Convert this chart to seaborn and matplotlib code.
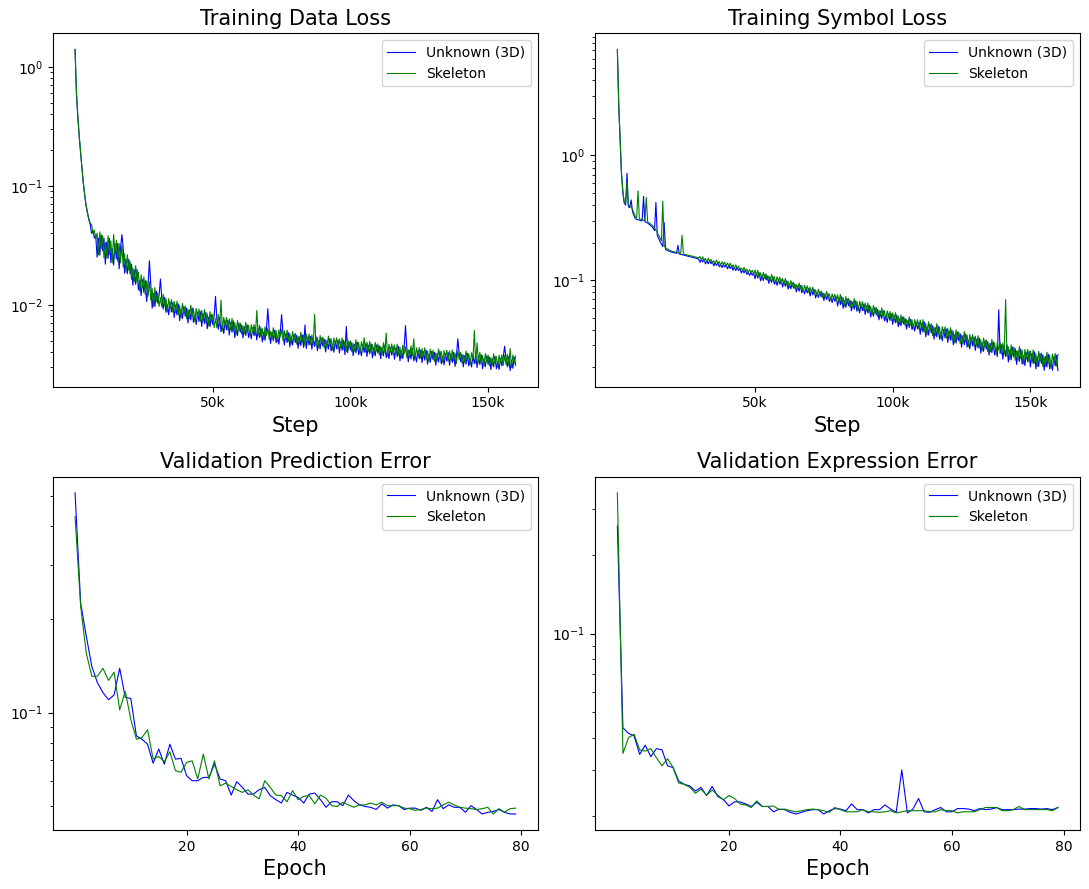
import numpy as np
import pandas as pd
import matplotlib
matplotlib.use('Agg')
import matplotlib.pyplot as plt
import seaborn as sns

#steps are logged every 500, epochs 0..79
steps = np.arange(0, 160500, 500)
epochs = np.arange(80)

#training data loss, units of 1e-5
data_loss_unknown = [
    140000, 60000, 38000, 26000, 19000, 14000, 10500, 8300, 6800, 5900,
    5200, 4750, 3990, 4180, 3650, 3850, 2520, 3640, 2620, 3880,
    2860, 3650, 2200, 3380, 2460, 3620, 2270, 2980, 2160, 3260,
    2440, 3290, 2010, 2980, 3900, 2990, 1850, 2420, 1830, 2420,
    1820, 2200, 1460, 1980, 1490, 1990, 1340, 1600, 1200, 1630,
    1270, 1600, 1070, 1450, 2350, 1460, 940, 1250, 970, 1310,
    1036, 1199, 1650, 1129, 924, 1159, 867, 1005, 827, 1048,
    874, 1050, 785, 1000, 823, 1019, 738, 922, 770, 972,
    805, 943, 705, 906, 748, 946, 714, 830, 685, 871,
    728, 878, 660, 844, 698, 868, 631, 788, 657, 829,
    685, 796, 1180, 758, 625, 790, 595, 695, 576, 736,
    619, 746, 559, 715, 591, 734, 533, 664, 554, 704,
    591, 679, 528, 655, 555, 680, 533, 610, 519, 642,
    553, 650, 508, 628, 532, 644, 489, 591, 505, 622,
    930, 610, 475, 589, 500, 614, 481, 550, 469, 581,
    830, 589, 461, 571, 484, 585, 445, 540, 461, 567,
    484, 556, 433, 538, 457, 561, 440, 680, 431, 534,
    461, 544, 425, 527, 448, 542, 412, 500, 428, 527,
    450, 517, 403, 501, 425, 523, 410, 469, 401, 497,
    428, 505, 395, 489, 416, 504, 383, 660, 398, 491,
    419, 482, 375, 467, 396, 487, 382, 438, 374, 464,
    399, 472, 369, 458, 389, 472, 360, 436, 374, 461,
    394, 453, 354, 440, 374, 460, 361, 414, 354, 439,
    379, 448, 350, 434, 369, 448, 340, 413, 354, 436,
    670, 429, 333, 415, 352, 432, 339, 388, 332, 411,
    354, 417, 327, 405, 344, 417, 318, 384, 330, 407,
    348, 401, 312, 390, 331, 407, 320, 368, 314, 390,
    337, 398, 312, 387, 329, 400, 305, 370, 520, 392,
    335, 386, 302, 375, 318, 392, 307, 353, 301, 373,
    322, 380, 298, 370, 315, 382, 291, 353, 302, 373,
    318, 366, 286, 355, 302, 371, 291, 335, 287, 356,
    308, 364, 450, 355, 303, 369, 281, 342, 294, 364,
    312]
data_loss_skeleton = [
    140000, 61000, 38500, 26500, 19300, 14200, 10700, 8400, 6900, 6000,
    5300, 4850, 4730, 4010, 4250, 3590, 4010, 2620, 4110, 2990,
    3820, 2480, 3340, 2480, 3810, 2660, 3450, 2250, 3900, 2690,
    3490, 2320, 3290, 2260, 3180, 2070, 2690, 1890, 2640, 1970,
    2320, 1640, 2050, 1570, 2140, 1560, 1880, 1300, 1790, 1410,
    1720, 1220, 1590, 1180, 1560, 1100, 1370, 976, 1400, 1070,
    1260, 974, 1150, 959, 1229, 978, 1132, 874, 1129, 951,
    1109, 869, 1072, 865, 1076, 833, 986, 779, 1028, 845,
    979, 766, 916, 770, 995, 799, 932, 722, 935, 790,
    924, 727, 901, 730, 913, 709, 843, 666, 878, 720,
    833, 646, 767, 644, 831, 666, 1100, 605, 787, 668,
    785, 618, 764, 618, 772, 599, 712, 561, 739, 612,
    705, 571, 665, 573, 715, 590, 675, 545, 683, 594,
    684, 556, 900, 558, 676, 543, 631, 514, 654, 554,
    633, 513, 598, 515, 644, 533, 609, 491, 618, 538,
    620, 504, 607, 507, 615, 494, 575, 470, 597, 505,
    578, 468, 545, 470, 589, 487, 558, 451, 568, 493,
    571, 465, 560, 468, 830, 458, 533, 435, 554, 469,
    537, 434, 508, 438, 547, 454, 519, 419, 528, 459,
    530, 432, 520, 434, 529, 425, 495, 405, 515, 438,
    500, 405, 473, 409, 511, 423, 484, 392, 492, 429,
    530, 403, 487, 407, 495, 399, 464, 380, 484, 410,
    470, 381, 446, 385, 482, 399, 580, 370, 466, 406,
    470, 383, 461, 385, 469, 378, 439, 360, 458, 388,
    444, 360, 420, 363, 454, 375, 520, 347, 437, 380,
    439, 357, 430, 360, 437, 352, 410, 335, 426, 362,
    416, 337, 394, 341, 427, 353, 406, 328, 414, 361,
    417, 340, 411, 344, 419, 338, 394, 322, 410, 349,
    400, 324, 380, 328, 411, 340, 390, 315, 397, 345,
    610, 325, 480, 329, 400, 322, 375, 307, 391, 332,
    380, 308, 360, 311, 389, 322, 369, 299, 378, 330,
    381, 311, 377, 316, 385, 311, 430, 298, 381, 324,
    372]

#training symbol loss, units of 1e-4
symbol_loss_unknown = [
    70000, 25000, 13000, 7000, 5000, 4150, 4000, 7200, 3880, 3820,
    4400, 3550, 3300, 3120, 3080, 3060, 3030, 3010, 2990, 4700,
    2940, 2910, 2870, 2810, 2750, 2690, 2610, 2500, 4200, 2280,
    2160, 2040, 1950, 1860, 2900, 1760, 1740, 1720, 1700, 1685,
    1670, 1660, 1650, 1640, 1900, 1620, 1610, 1600, 1590, 1580,
    1570, 1560, 1550, 1540, 1530, 1520, 1510, 1500, 1490, 1475,
    1388, 1474, 1397, 1474, 1349, 1422, 1352, 1433, 1355, 1409,
    1302, 1383, 1310, 1387, 1280, 1326, 1260, 1339, 1272, 1333,
    1232, 1308, 1238, 1308, 1199, 1260, 1195, 1265, 1195, 1240,
    1142, 1210, 1142, 1209, 1114, 1151, 1090, 1154, 1094, 1146,
    1027, 1142, 1040, 1147, 987, 1084, 992, 1104, 1007, 1080,
    942, 1051, 957, 1063, 929, 992, 908, 1010, 928, 1010,
    880, 980, 893, 985, 846, 929, 852, 947, 863, 924,
    805, 897, 816, 905, 790, 845, 775, 862, 790, 857,
    747, 833, 761, 838, 719, 791, 726, 805, 734, 787,
    687, 767, 699, 775, 675, 721, 660, 736, 676, 732,
    619, 725, 637, 734, 594, 683, 605, 706, 622, 689,
    568, 666, 584, 680, 563, 620, 547, 641, 569, 642,
    530, 620, 544, 626, 506, 581, 514, 599, 527, 583,
    480, 562, 492, 572, 473, 520, 458, 536, 475, 536,
    442, 518, 455, 524, 423, 488, 431, 503, 444, 491,
    405, 474, 417, 486, 401, 442, 391, 457, 406, 458,
    367, 452, 383, 462, 351, 423, 362, 443, 377, 431,
    336, 415, 351, 428, 336, 382, 325, 401, 344, 404,
    316, 389, 330, 397, 303, 364, 312, 382, 326, 372,
    290, 358, 303, 370, 290, 330, 281, 346, 298, 349,
    273, 335, 285, 342, 260, 314, 268, 329, 280, 321,
    250, 309, 262, 320, 251, 286, 243, 578, 258, 303,
    232, 295, 244, 303, 221, 275, 229, 290, 241, 282,
    211, 270, 223, 280, 212, 247, 206, 263, 222, 268,
    201, 257, 214, 266, 194, 242, 203, 258, 215, 252,
    189, 243, 201, 255, 194, 227, 189, 243, 205, 249,
    188]
symbol_loss_skeleton = [
    71000, 26000, 13500, 7300, 5200, 4250, 4100, 6100, 4000, 3950,
    3850, 3700, 3450, 3230, 3150, 5200, 3100, 3080, 3050, 3030,
    3000, 4600, 2930, 2880, 2830, 2770, 2700, 2610, 2510, 2400,
    2290, 2170, 2060, 4300, 1880, 1820, 1785, 1760, 1735, 1715,
    1700, 1690, 1680, 1670, 1660, 1650, 1640, 2290, 1620, 1610,
    1600, 1590, 1580, 1570, 1560, 1550, 1540, 1530, 1520, 1505,
    1546, 1456, 1542, 1433, 1492, 1399, 1500, 1416, 1467, 1370,
    1429, 1361, 1452, 1360, 1409, 1315, 1404, 1339, 1394, 1302,
    1373, 1293, 1367, 1272, 1326, 1240, 1325, 1250, 1294, 1205,
    1254, 1191, 1267, 1185, 1227, 1142, 1215, 1154, 1199, 1119,
    1205, 1086, 1199, 1060, 1145, 1021, 1153, 1050, 1122, 997,
    1077, 991, 1112, 997, 1067, 948, 1065, 981, 1056, 940,
    1033, 931, 1030, 911, 981, 876, 991, 901, 962, 854,
    921, 846, 948, 849, 908, 808, 909, 837, 899, 798,
    877, 792, 877, 775, 833, 746, 845, 766, 818, 727,
    786, 723, 812, 727, 775, 689, 775, 714, 769, 682,
    765, 662, 767, 646, 722, 616, 738, 647, 714, 605,
    677, 602, 711, 611, 675, 570, 677, 604, 672, 570,
    655, 566, 655, 551, 615, 524, 627, 549, 605, 512,
    572, 508, 599, 514, 567, 478, 567, 505, 561, 476,
    547, 473, 548, 461, 515, 440, 526, 461, 509, 431,
    483, 429, 507, 437, 482, 407, 483, 431, 480, 407,
    478, 398, 482, 386, 448, 365, 463, 391, 446, 359,
    418, 359, 447, 369, 421, 338, 424, 367, 422, 342,
    411, 342, 415, 333, 386, 314, 399, 337, 384, 310,
    361, 310, 386, 318, 363, 292, 366, 317, 365, 295,
    355, 295, 358, 286, 332, 271, 343, 290, 331, 267,
    311, 267, 334, 275, 314, 253, 317, 275, 316, 256,
    312, 253, 697, 245, 291, 230, 303, 250, 290, 227,
    271, 227, 293, 234, 274, 213, 278, 236, 278, 220,
    271, 220, 276, 215, 256, 203, 268, 222, 259, 203,
    243, 204, 264, 214, 250, 196, 255, 218, 258, 204,
    254]

#validation prediction error
pred_err_unknown = [
    0.513, 0.226, 0.177, 0.141, 0.125, 0.116, 0.110, 0.114, 0.139, 0.112,
    0.111, 0.084, 0.082, 0.079, 0.0686, 0.0762, 0.0681, 0.079, 0.0707, 0.0711,
    0.0625, 0.0602, 0.0602, 0.0617, 0.0617, 0.0681, 0.0610, 0.0602, 0.0541, 0.0598,
    0.0573, 0.0545, 0.0545, 0.0563, 0.0573, 0.0539, 0.0523, 0.0510, 0.0552, 0.0541,
    0.0532, 0.0510, 0.0545, 0.0549, 0.0523, 0.0494, 0.0515, 0.0515, 0.0500, 0.0541,
    0.0519, 0.0503, 0.0497, 0.0494, 0.0486, 0.0507, 0.0491, 0.0503, 0.0500, 0.0486,
    0.0491, 0.0491, 0.0483, 0.0494, 0.0479, 0.0523, 0.0489, 0.0503, 0.0494, 0.0494,
    0.0476, 0.0500, 0.0486, 0.0470, 0.0476, 0.0479, 0.0486, 0.0476, 0.0470, 0.0470]
pred_err_skeleton = [
    0.430, 0.221, 0.156, 0.131, 0.131, 0.139, 0.127, 0.135, 0.102, 0.117,
    0.095, 0.082, 0.083, 0.088, 0.0707, 0.0721, 0.0693, 0.0747, 0.0649, 0.0641,
    0.0690, 0.0698, 0.0610, 0.0734, 0.0610, 0.0698, 0.0580, 0.0591, 0.0577, 0.0563,
    0.0552, 0.0563, 0.0541, 0.0526, 0.0602, 0.0573, 0.0541, 0.0539, 0.0515, 0.0559,
    0.0523, 0.0536, 0.0539, 0.0507, 0.0541, 0.0529, 0.0500, 0.0497, 0.0513, 0.0503,
    0.0494, 0.0503, 0.0503, 0.0510, 0.0503, 0.0513, 0.0500, 0.0500, 0.0500, 0.0491,
    0.0489, 0.0483, 0.0486, 0.0491, 0.0489, 0.0491, 0.0503, 0.0513, 0.0503, 0.0494,
    0.0491, 0.0489, 0.0486, 0.0489, 0.0494, 0.0470, 0.0489, 0.0476, 0.0489, 0.0491]

#validation expression error
expr_err_unknown = [
    0.258, 0.0436, 0.0415, 0.0406, 0.0345, 0.0374, 0.0338, 0.0363, 0.0359, 0.0312,
    0.0307, 0.0273, 0.0265, 0.0261, 0.0250, 0.0258, 0.0240, 0.0260, 0.0238, 0.0232,
    0.0219, 0.0227, 0.0227, 0.0223, 0.0218, 0.0226, 0.0218, 0.0218, 0.0208, 0.0213,
    0.0212, 0.0207, 0.0204, 0.0207, 0.0210, 0.0212, 0.0212, 0.0204, 0.0210, 0.0214,
    0.0213, 0.0210, 0.0223, 0.0212, 0.0212, 0.0206, 0.0212, 0.0212, 0.0221, 0.0213,
    0.0207, 0.0301, 0.0206, 0.0213, 0.0234, 0.0208, 0.0207, 0.0212, 0.0216, 0.0208,
    0.0208, 0.0214, 0.0214, 0.0213, 0.0210, 0.0214, 0.0212, 0.0213, 0.0216, 0.0212,
    0.0212, 0.0212, 0.0213, 0.0213, 0.0214, 0.0214, 0.0213, 0.0214, 0.0212, 0.0216]
expr_err_skeleton = [
    0.346, 0.0348, 0.0400, 0.0412, 0.0359, 0.0355, 0.0363, 0.0335, 0.0312, 0.0332,
    0.0307, 0.0268, 0.0265, 0.0258, 0.0245, 0.0254, 0.0241, 0.0252, 0.0241, 0.0231,
    0.0240, 0.0234, 0.0223, 0.0221, 0.0216, 0.0229, 0.0218, 0.0218, 0.0219, 0.0212,
    0.0213, 0.0210, 0.0208, 0.0210, 0.0212, 0.0213, 0.0212, 0.0210, 0.0207, 0.0216,
    0.0212, 0.0208, 0.0208, 0.0208, 0.0212, 0.0208, 0.0208, 0.0207, 0.0208, 0.0210,
    0.0206, 0.0208, 0.0210, 0.0210, 0.0210, 0.0210, 0.0208, 0.0208, 0.0212, 0.0210,
    0.0210, 0.0206, 0.0208, 0.0208, 0.0208, 0.0212, 0.0216, 0.0216, 0.0216, 0.0210,
    0.0210, 0.0212, 0.0218, 0.0212, 0.0212, 0.0212, 0.0212, 0.0212, 0.0210, 0.0216]

step_ticks = [50000, 100000, 150000]
step_labels = ['50k', '100k', '150k']
epoch_ticks = [20, 40, 60, 80]


def draw(ax, x, unknown, skeleton, title, xlabel):
    sns.lineplot(x=x, y=unknown, ax=ax, color='blue', linewidth=0.8,
                 label='Unknown (3D)', estimator=None)
    sns.lineplot(x=x, y=skeleton, ax=ax, color='green', linewidth=0.8,
                 label='Skeleton', estimator=None)
    ax.set_yscale('log')
    ax.set_title(title, fontsize=15)
    ax.set_xlabel(xlabel, fontsize=15)
    ax.set_ylabel('')
    ax.legend(loc='upper right')


fig, axes = plt.subplots(2, 2, figsize=(10.89, 8.89), dpi=100)
plt.subplots_adjust(left=0.0487, right=0.9917, bottom=0.0663, top=0.9625,
                    wspace=0.119, hspace=0.255)

draw(axes[0, 0], steps, np.array(data_loss_unknown) * 1e-5,
     np.array(data_loss_skeleton) * 1e-5, 'Training Data Loss', 'Step')
draw(axes[0, 1], steps, np.array(symbol_loss_unknown) * 1e-4,
     np.array(symbol_loss_skeleton) * 1e-4, 'Training Symbol Loss', 'Step')
draw(axes[1, 0], epochs, pred_err_unknown, pred_err_skeleton,
     'Validation Prediction Error', 'Epoch')
draw(axes[1, 1], epochs, expr_err_unknown, expr_err_skeleton,
     'Validation Expression Error', 'Epoch')

for ax in axes[0]:
    ax.set_xticks(step_ticks)
    ax.set_xticklabels(step_labels)
for ax in axes[1]:
    ax.set_xticks(epoch_ticks)

plt.savefig('out.png', dpi=100)
